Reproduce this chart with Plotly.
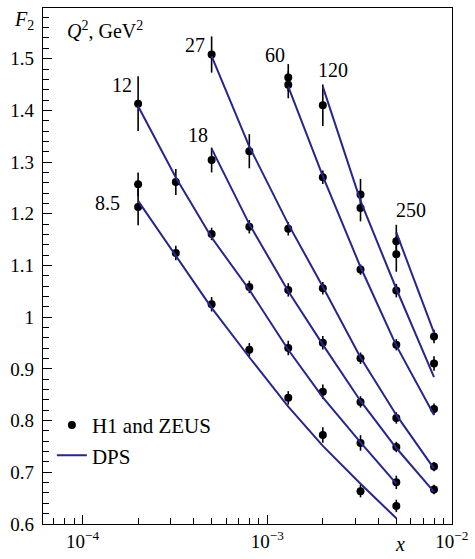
import plotly.graph_objects as go

# ---- data (x, F2 points with errors, DPS curve values) ----
x_85 = [2e-4, 2e-4, 3.2e-4, 5e-4, 8e-4, 1.3e-3, 2e-3, 3.2e-3, 5e-3]
f2_85 = [1.257, 1.213, 1.124, 1.025, 0.937, 0.844, 0.772, 0.6635, 0.635]
err_85 = [0.023, 0.035, 0.014, 0.014, 0.013, 0.013, 0.015, 0.012, 0.012]
xl_85 = [2e-4, 3.2e-4, 5e-4, 8e-4, 1.3e-3, 2e-3, 3.2e-3, 5e-3]
dps_85 = [1.225, 1.118, 1.018, 0.9225, 0.827, 0.751, 0.678, 0.611]

x_12 = [2e-4, 3.2e-4, 5e-4, 8e-4, 1.3e-3, 2e-3, 3.2e-3, 5e-3]
f2_12 = [1.413, 1.2615, 1.161, 1.0585, 0.9404, 0.8559, 0.7568, 0.6806]
err_12 = [0.053, 0.025, 0.012, 0.012, 0.014, 0.014, 0.015, 0.013]
dps_12 = [1.408, 1.27, 1.154, 1.053, 0.937, 0.845, 0.758, 0.678]

x_18 = [5e-4, 8e-4, 1.3e-3, 2e-3, 3.2e-3, 5e-3, 8e-3]
f2_18 = [1.304, 1.175, 1.0528, 0.9505, 0.8362, 0.749, 0.6667]
err_18 = [0.024, 0.013, 0.013, 0.013, 0.011, 0.010, 0.009]
dps_18 = [1.326, 1.18, 1.05, 0.947, 0.838, 0.747, 0.662]

x_27 = [5e-4, 8e-4, 1.3e-3, 2e-3, 3.2e-3, 5e-3, 8e-3]
f2_27 = [1.508, 1.321, 1.171, 1.056, 0.9206, 0.8051, 0.711]
err_27 = [0.035, 0.033, 0.013, 0.012, 0.011, 0.011, 0.009]
dps_27 = [1.505, 1.33, 1.18, 1.059, 0.922, 0.811, 0.707]

x_60 = [1.3e-3, 1.3e-3, 2e-3, 3.2e-3, 5e-3, 8e-3]
f2_60 = [1.4635, 1.4495, 1.2705, 1.092, 0.9467, 0.8222]
err_60 = [0.026, 0.026, 0.013, 0.010, 0.011, 0.011]
xl_60 = [1.3e-3, 2e-3, 3.2e-3, 5e-3, 8e-3]
dps_60 = [1.446, 1.273, 1.097, 0.945, 0.811]

x_120 = [2e-3, 3.2e-3, 3.2e-3, 5e-3, 8e-3]
f2_120 = [1.410, 1.2375, 1.2114, 1.0514, 0.9105]
err_120 = [0.040, 0.030, 0.026, 0.013, 0.014]
xl_120 = [2e-3, 3.2e-3, 5e-3, 8e-3]
dps_120 = [1.446, 1.225, 1.055, 0.884]

x_250 = [5e-3, 5e-3, 8e-3]
f2_250 = [1.1467, 1.1219, 0.9625]
err_250 = [0.032, 0.034, 0.013]
xl_250 = [5e-3, 8e-3]
dps_250 = [1.164, 0.970]

q2_labels = ["8.5", "12", "18", "27", "60", "120", "250"]
y_tickvals = [0.6, 0.7, 0.8, 0.9, 1.0, 1.1, 1.2, 1.3, 1.4, 1.5]
y_ticktext = ["0.6", "0.7", "0.8", "0.9", "1", "1.1", "1.2", "1.3", "1.4", "1.5"]
x_tickvals = [1e-4, 1e-3, 1e-2]
x_ticktext = ["10<sup>\u22124</sup>", "10<sup>\u22123</sup>", "10<sup>\u22122</sup>"]

LINE_COLOR = "#26268c"
FONT = "'Liberation Serif', 'Times New Roman', Times, serif"

fig = go.Figure()

all_x = x_85 + x_12 + x_18 + x_27 + x_60 + x_120 + x_250
all_f2 = f2_85 + f2_12 + f2_18 + f2_27 + f2_60 + f2_120 + f2_250
all_err = err_85 + err_12 + err_18 + err_27 + err_60 + err_120 + err_250

fig.add_trace(go.Scatter(
    x=all_x, y=all_f2, mode="markers", name="H1 and ZEUS",
    marker=dict(symbol="circle", size=8, color="black"),
    error_y=dict(type="data", array=all_err, color="black", thickness=1.6, width=0),
))

curves = [(xl_85, dps_85), (x_12, dps_12), (x_18, dps_18), (x_27, dps_27),
          (xl_60, dps_60), (xl_120, dps_120), (xl_250, dps_250)]
for i, (cx, cy) in enumerate(curves):
    fig.add_trace(go.Scatter(
        x=cx, y=cy, mode="lines", name="DPS",
        line=dict(color=LINE_COLOR, width=2),
        showlegend=(i == 0),
    ))

# plot area in pixels: left 43, right 457, top 7, bottom 531
def px(xp):
    return (xp - 43) / 414.0

def py(yp):
    return (531 - yp) / 524.0

label_pos = [(108, 205), (123, 85), (200, 136), (197, 45), (278, 55), (337, 70), (415, 212)]
annotations = []
for lab, (ax_, ay_) in zip(q2_labels, label_pos):
    annotations.append(dict(text=lab, x=px(ax_), y=py(ay_), xref="paper", yref="paper",
                            showarrow=False, xanchor="center", yanchor="middle",
                            font=dict(family=FONT, size=20, color="black")))
annotations.append(dict(text="<i>Q</i><sup>2</sup>, GeV<sup>2</sup>", x=px(65), y=py(29),
                        xref="paper", yref="paper", showarrow=False,
                        xanchor="left", yanchor="middle",
                        font=dict(family=FONT, size=20, color="black")))
annotations.append(dict(text="<i>F</i><sub>2</sub>", x=px(24), y=py(20),
                        xref="paper", yref="paper", showarrow=False,
                        xanchor="center", yanchor="middle",
                        font=dict(family=FONT, size=20, color="black")))
annotations.append(dict(text="<i>x</i>", x=px(404), y=py(551),
                        xref="paper", yref="paper", showarrow=False,
                        xanchor="center", yanchor="middle",
                        font=dict(family=FONT, size=20, color="black")))

minor_x = []
for dec in [1e-5, 1e-4, 1e-3]:
    for k in range(2, 10):
        minor_x.append(k * dec)

fig.update_layout(
    width=475, height=559,
    margin=dict(l=43, r=18, t=7, b=28),
    paper_bgcolor="white", plot_bgcolor="white",
    font=dict(family=FONT, size=18, color="black"),
    showlegend=True,
    legend=dict(x=px(52), y=py(410), xanchor="left", yanchor="top",
                bgcolor="rgba(0,0,0,0)", traceorder="normal",
                font=dict(family=FONT, size=21, color="black"),
                itemwidth=30),
    annotations=annotations,
    xaxis=dict(type="log", range=[-4.214, -1.9995], showgrid=False, zeroline=False,
               showline=True, linecolor="black", linewidth=1.3, mirror=True,
               ticks="inside", ticklen=9, tickwidth=1.2, tickcolor="black",
               tickvals=x_tickvals, ticktext=x_ticktext,
               tickfont=dict(family=FONT, size=19, color="black"),
               minor=dict(ticks="inside", ticklen=6, tickwidth=1.2, tickcolor="black",
                          tickvals=minor_x, showgrid=False)),
    yaxis=dict(range=[0.6, 1.598], showgrid=False, zeroline=False,
               showline=True, linecolor="black", linewidth=1.3, mirror=True,
               ticks="inside", ticklen=9, tickwidth=1.2, tickcolor="black",
               tickvals=y_tickvals, ticktext=y_ticktext,
               tickfont=dict(family=FONT, size=19, color="black"),
               ticklabelstandoff=4,
               minor=dict(ticks="inside", ticklen=6, tickwidth=1.2, tickcolor="black",
                          dtick=0.02, tick0=0.6, showgrid=False)),
)

fig.write_html("out.html")
